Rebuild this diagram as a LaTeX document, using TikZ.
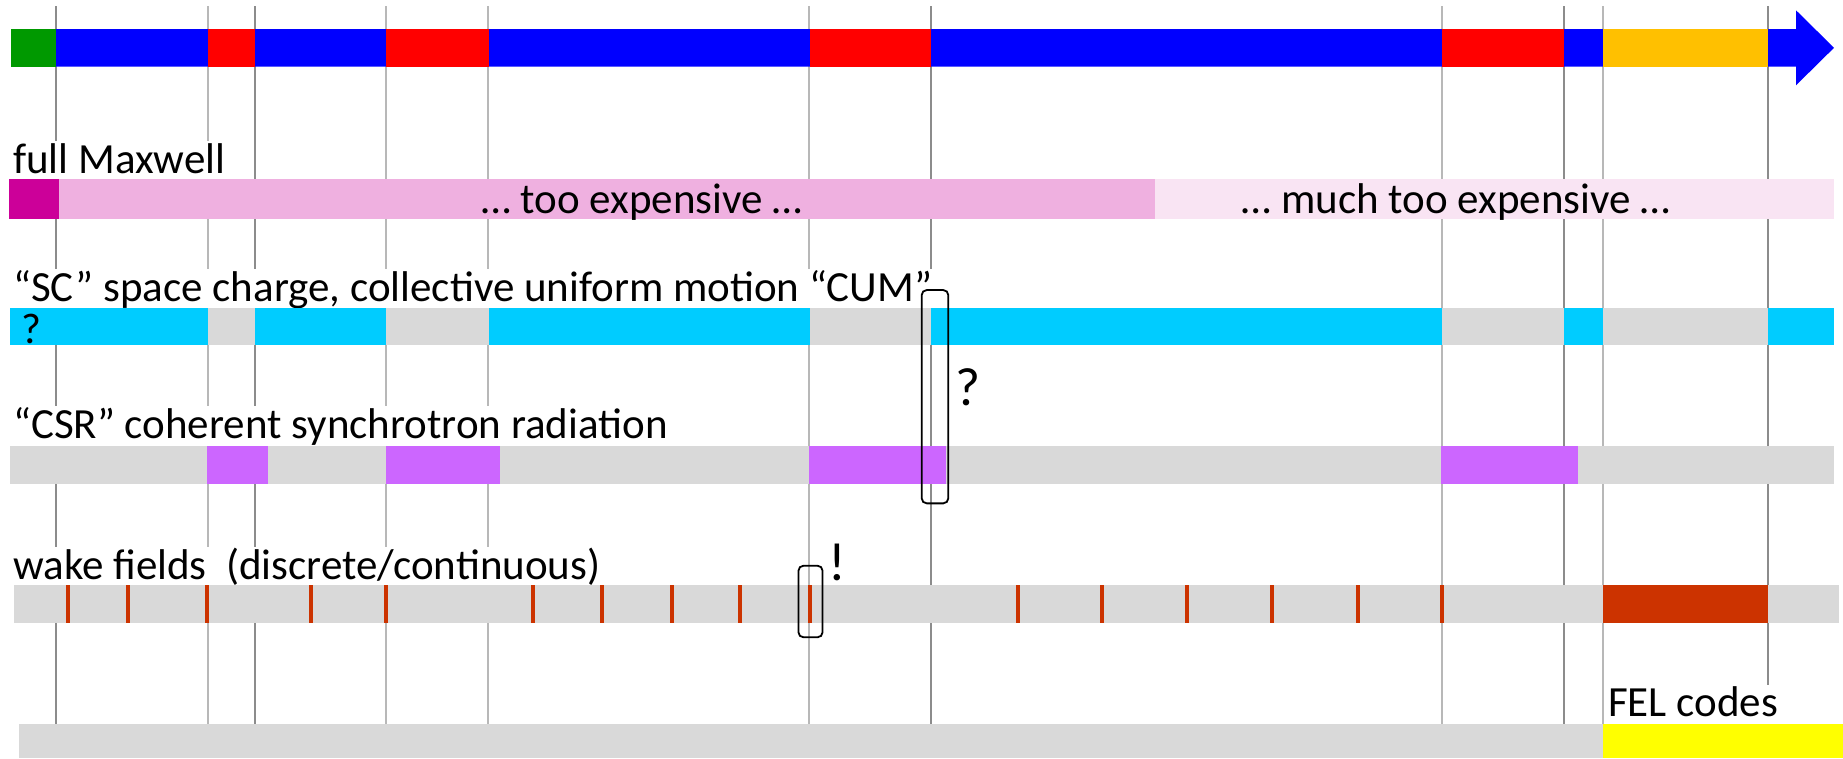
\documentclass[tikz,border=0pt]{standalone}
\usepackage{fontspec}
\setmainfont{Carlito}

\definecolor{barblue}{HTML}{0000FF}
\definecolor{bargreen}{HTML}{009900}
\definecolor{barred}{HTML}{FF0000}
\definecolor{barorange}{HTML}{FFC000}
\definecolor{mwdark}{HTML}{CC0099}
\definecolor{mwpink}{HTML}{EFB0E0}
\definecolor{mwlight}{HTML}{F9E4F3}
\definecolor{sccyan}{HTML}{00CCFF}
\definecolor{offgray}{HTML}{D9D9D9}
\definecolor{csrpurple}{HTML}{CC66FF}
\definecolor{wakered}{HTML}{CC3300}
\definecolor{felyellow}{HTML}{FFFF00}
\definecolor{guidedarkc}{HTML}{8C8C8C}
\definecolor{guidelightc}{HTML}{B8B8B8}

\tikzset{
  guidedark/.style={draw=guidedarkc, line width=1.3pt},
  guidelight/.style={draw=guidelightc, line width=1.3pt},
  rowlabel/.style={font=\fontsize{43}{51}\selectfont, fill=white, inner xsep=2pt,
    inner ysep=0pt, text height=32pt, text depth=9pt, anchor=base west},
  barlabel/.style={font=\fontsize{43}{51}\selectfont, inner sep=0pt, anchor=base},
  marklabel/.style={font=\fontsize{54}{62}\selectfont, inner sep=0pt, anchor=base west},
  notebox/.style={draw=black, line width=1.8pt, rounded corners=5pt, inner sep=0pt},
  wake/.style={draw=wakered, line width=4pt},
}

\begin{document}
\begin{tikzpicture}[x=1pt,y=-1pt]
\useasboundingbox (0,0) rectangle (1843,758);

% section boundaries running down through all rows
\foreach \gx in {56,255,931,1564,1768}
  \draw[guidedark] (\gx,6) -- (\gx,724);
\foreach \gx in {208,386,488,809,1442,1603}
  \draw[guidelight] (\gx,6) -- (\gx,724);

% row titles (white boxes hide the boundary lines behind them)
\node[rowlabel] (tmax) at (11,173) {full Maxwell};
\node[rowlabel] (tsc)  at (11,301) {“SC” space charge, collective uniform motion “CUM”};
\node[rowlabel] (tcsr) at (11,438) {“CSR” coherent synchrotron radiation};
\node[rowlabel] (twake) at (11,579) {wake fields\ \ (discrete/continuous)};
\node[rowlabel] (tfel) at (1606,716.5) {FEL codes};

% beamline arrow
\fill[barblue] (11,29) -- (1796,29) -- (1796,10.3) -- (1834,47.8)
  -- (1796,85.3) -- (1796,66.7) -- (11,66.7) -- cycle;
\fill[bargreen]  (11,29)    rectangle (55.8,66.7);
\fill[barred]    (208,29)   rectangle (254.6,66.7);
\fill[barred]    (386,29)   rectangle (489,66.7);
\fill[barred]    (809.6,29) rectangle (931.4,66.7);
\fill[barred]    (1442,29)  rectangle (1563.7,66.7);
\fill[barorange] (1603,29)  rectangle (1767.5,66.7);

% full Maxwell row
\fill[mwdark]  (8.7,179.3)  rectangle (59.3,219);
\fill[mwpink]  (59.3,179.3) rectangle (1155,219);
\fill[mwlight] (1155,179.3) rectangle (1833.5,219);
\node[barlabel] (cost1) at (642,213) {… too expensive …};
\node[barlabel] (cost2) at (1456,213) {… much too expensive …};

% space charge row
\fill[offgray] (9.5,307.5) rectangle (1834,344.5);
\foreach \a/\b in {9.5/208, 254.5/386, 489/809.5, 931.4/1442, 1563.7/1603, 1767.5/1834}
  \fill[sccyan] (\a,307.5) rectangle (\b,344.5);
\node[font=\fontsize{43}{51}\selectfont, inner sep=0pt, anchor=base west] (qsc) at (21.5,343.3) {?};

% CSR row
\fill[offgray] (9.5,446.3) rectangle (1834,483.7);
\foreach \a/\b in {207/268, 386/500, 809/946, 1441/1578}
  \fill[csrpurple] (\a,446.3) rectangle (\b,483.7);

% wake field row
\fill[offgray] (13.8,585) rectangle (1838.5,622.7);
\fill[wakered] (1603,585) rectangle (1767.5,622.7);
\foreach \wx in {68,127.5,206.5,310.5,385.7,532.5,602.3,671.6,740,809.6,1017.6,1101.8,1186.8,1272,1357.5,1441.8}
  \draw[wake] (\wx,585) -- (\wx,622.7);

% FEL row
\fill[offgray]   (19,724)   rectangle (1603,758);
\fill[felyellow] (1603,724) rectangle (1843,758);

% remarks
\node[notebox, minimum width=26.6pt, minimum height=213.3pt] (boxq) at (935,396.7) {};
\node[marklabel] (qmark) at (955.5,405) {?};
\node[notebox, minimum width=24.1pt, minimum height=71.6pt] (boxw) at (810.5,601.5) {};
\node[marklabel] (emark) at (828,580) {!};
\end{tikzpicture}
\end{document}
